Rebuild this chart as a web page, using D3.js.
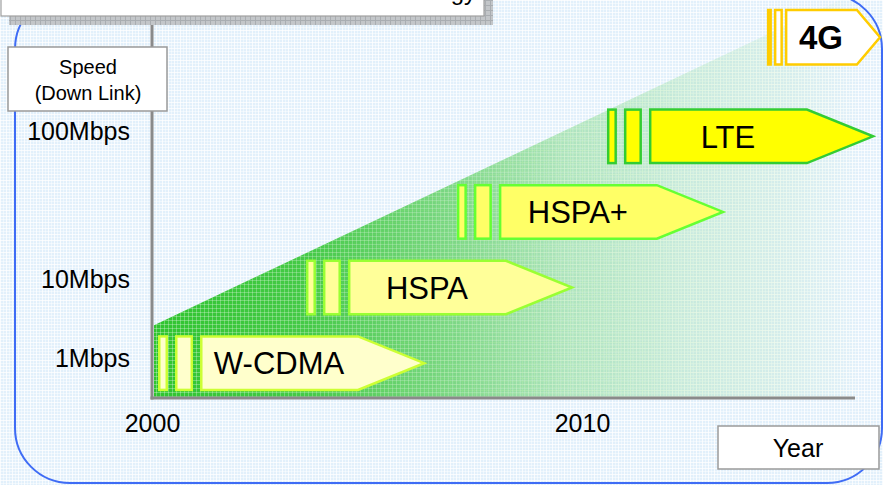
<!DOCTYPE html>
<html>
<head>
<meta charset="utf-8">
<script src="https://cdn.jsdelivr.net/npm/d3@7"></script>
<style>
  html, body { margin: 0; padding: 0; overflow: hidden; background: #ffffff; }
  svg { display: block; font-family: "Liberation Sans", Arial, sans-serif; }
</style>
</head>
<body>
<script>
// ---------- data ----------
const techNames = ["W-CDMA", "HSPA", "HSPA+", "LTE", "4G"];
const techStartYear = [2000.14, 2003.58, 2007.09, 2010.58, 2014.3];
const techSpeedMbps = [0.86, 7.8, 28.4, 92, 430];
const speedTicks = [1, 10, 100];
const yearTicks = [2000, 2010];
const trendYears = [2000, 2016.5];
const trendSpeeds = [2.6, 900];

// ---------- styles ----------
const fills = ["#ffffcc", "#ffff99", "#ffff66", "#ffff00", "#ffffff"];
const strokes = ["#ccff33", "#99ff33", "#66ff33", "#33cc33", "#ffcc00"];
const regularShape = { h: 56, bar1: [0, 10], bar2: [17, 35], body: 42, neck: 200, tip: 268, font: 31, weight: "normal" };
const fourGShape = { h: 57, bar1: [0, 5], bar2: [7, 16], body: 18, neck: 90, tip: 115, font: 33, weight: "bold" };
const shapes = [regularShape, regularShape, regularShape, regularShape, fourGShape];

const W = 883, H = 485;
const x = d3.scaleLinear().domain([2000, 2010]).range([152, 582]);
const y = d3.scaleLog().domain([1, 10, 100]).range([358, 279, 131]);
const axisY = 398, axisRight = 855;

const svg = d3.select("body").append("svg").attr("width", W).attr("height", H);
const defs = svg.append("defs");

// background plaid pattern
const bgPat = defs.append("pattern").attr("id", "bgpat").attr("patternUnits", "userSpaceOnUse")
  .attr("width", 6).attr("height", 6);
bgPat.append("rect").attr("width", 6).attr("height", 6).attr("fill", "#e2f0fb");
bgPat.append("rect").attr("x", 0).attr("y", 0).attr("width", 1).attr("height", 6).attr("fill", "#ffffff").attr("opacity", 0.75);
bgPat.append("rect").attr("x", 3).attr("y", 0).attr("width", 1).attr("height", 6).attr("fill", "#ffffff").attr("opacity", 0.45);
bgPat.append("rect").attr("x", 0).attr("y", 0).attr("width", 6).attr("height", 1).attr("fill", "#ffffff").attr("opacity", 0.75);
bgPat.append("rect").attr("x", 0).attr("y", 3).attr("width", 6).attr("height", 1).attr("fill", "#ffffff").attr("opacity", 0.45);

// white-line texture for gradient
const texPat = defs.append("pattern").attr("id", "texpat").attr("patternUnits", "userSpaceOnUse")
  .attr("width", 4).attr("height", 4);
texPat.append("rect").attr("x", 0).attr("y", 0).attr("width", 1).attr("height", 4).attr("fill", "#ffffff").attr("opacity", 0.3);
texPat.append("rect").attr("x", 0).attr("y", 0).attr("width", 4).attr("height", 1).attr("fill", "#ffffff").attr("opacity", 0.3);

// grey shadow pattern
const shPat = defs.append("pattern").attr("id", "shpat").attr("patternUnits", "userSpaceOnUse")
  .attr("width", 5).attr("height", 5);
shPat.append("rect").attr("width", 5).attr("height", 5).attr("fill", "#c3c6c9");
shPat.append("rect").attr("width", 1).attr("height", 5).attr("fill", "#a9adb1");
shPat.append("rect").attr("width", 5).attr("height", 1).attr("fill", "#a9adb1");

// gradient
const x0 = x(trendYears[0]), x1 = x(trendYears[1]);
const grad = defs.append("linearGradient").attr("id", "greengrad").attr("gradientUnits", "userSpaceOnUse")
  .attr("x1", x0).attr("y1", 0).attr("x2", x1).attr("y2", 0);
[[0, 1.0], [0.22, 0.88], [0.42, 0.58], [0.58, 0.3], [0.75, 0.15], [0.9, 0.07], [1, 0.0]].forEach(([o, a]) => {
  grad.append("stop").attr("offset", o).attr("stop-color", "#2fc42f").attr("stop-opacity", a);
});
const texGrad = defs.append("linearGradient").attr("id", "texgrad").attr("gradientUnits", "userSpaceOnUse")
  .attr("x1", x0).attr("y1", 0).attr("x2", x1).attr("y2", 0);
texGrad.append("stop").attr("offset", 0).attr("stop-color", "#fff").attr("stop-opacity", 1);
texGrad.append("stop").attr("offset", 0.6).attr("stop-color", "#fff").attr("stop-opacity", 0.5);
texGrad.append("stop").attr("offset", 1).attr("stop-color", "#fff").attr("stop-opacity", 0);
const texMask = defs.append("mask").attr("id", "texmask").attr("maskUnits", "userSpaceOnUse")
  .attr("x", 0).attr("y", 0).attr("width", W).attr("height", H);
texMask.append("rect").attr("width", W).attr("height", H).attr("fill", "url(#texgrad)");

// background
svg.append("rect").attr("width", W).attr("height", H).attr("fill", "url(#bgpat)");
svg.append("rect").attr("x", 15).attr("y", -6).attr("width", 867).attr("height", 489)
  .attr("rx", 55).attr("ry", 55).attr("fill", "none").attr("stroke", "#3f6cf5").attr("stroke-width", 2);

// trend triangle
const triPts = [
  [x0 + 2, y(trendSpeeds[0])],
  [x1, y(trendSpeeds[1])],
  [x1, axisY - 1],
  [x0 + 2, axisY - 1]
];
const triPath = d3.line()(triPts) + "Z";
svg.append("path").attr("d", triPath).attr("fill", "url(#greengrad)");
svg.append("path").attr("d", triPath).attr("fill", "url(#texpat)").attr("mask", "url(#texmask)");

// axis lines
svg.append("line").attr("x1", x(2000)).attr("x2", x(2000)).attr("y1", 0).attr("y2", axisY + 1.5)
  .attr("stroke", "#8a8a8a").attr("stroke-width", 3);
svg.append("line").attr("x1", x(2000) - 1.5).attr("x2", axisRight).attr("y1", axisY).attr("y2", axisY)
  .attr("stroke", "#8a8a8a").attr("stroke-width", 3);

// tick labels via axes
const yAxis = d3.axisLeft(y).tickValues(speedTicks).tickSize(0).tickPadding(22)
  .tickFormat(d => d + "Mbps");
const gy = svg.append("g").attr("transform", `translate(${x(2000)},0)`).call(yAxis);
gy.select(".domain").remove();
gy.selectAll("text").attr("font-size", 25).attr("fill", "#000")
  .attr("font-family", "'Liberation Sans', Arial, sans-serif");

const xAxis = d3.axisBottom(x).tickValues(yearTicks).tickSize(0).tickPadding(16).tickFormat(d3.format("d"));
const gx = svg.append("g").attr("transform", `translate(0,${axisY})`).call(xAxis);
gx.select(".domain").remove();
gx.selectAll("text").attr("font-size", 25).attr("fill", "#000")
  .attr("font-family", "'Liberation Sans', Arial, sans-serif");

// technology arrows
techNames.forEach((name, i) => {
  const s = shapes[i];
  const bx = x(techStartYear[i]);
  const yc = y(techSpeedMbps[i]);
  const top = yc - s.h / 2, bot = yc + s.h / 2;
  const g = svg.append("g");
  const sw = 2.5, inset = sw / 2;
  [s.bar1, s.bar2].forEach(b => {
    g.append("rect").attr("x", bx + b[0] + inset).attr("y", top + inset)
      .attr("width", b[1] - b[0] - sw).attr("height", s.h - sw)
      .attr("fill", fills[i]).attr("stroke", strokes[i]).attr("stroke-width", sw);
  });
  const body = [
    [bx + s.body + inset, top + inset],
    [bx + s.neck, top + inset],
    [bx + s.tip - inset * 1.5, yc],
    [bx + s.neck, bot - inset],
    [bx + s.body + inset, bot - inset]
  ];
  g.append("path").attr("d", d3.line()(body) + "Z")
    .attr("fill", fills[i]).attr("stroke", strokes[i]).attr("stroke-width", sw).attr("stroke-linejoin", "miter");
  g.append("text").attr("x", bx + (s.body + s.neck) / 2).attr("y", yc).attr("dy", "0.36em")
    .attr("text-anchor", "middle").attr("font-size", s.font).attr("font-weight", s.weight)
    .attr("fill", "#000").text(name);
});

// top title box (clipped) with shadow
svg.append("rect").attr("x", 9).attr("y", -10).attr("width", 484).attr("height", 35).attr("fill", "url(#shpat)");
svg.append("rect").attr("x", 1).attr("y", -10).attr("width", 483).attr("height", 26)
  .attr("fill", "#ffffff").attr("stroke", "#a0a0a0").attr("stroke-width", 1.2);
svg.append("text").attr("x", 476).attr("y", 0).attr("text-anchor", "end").attr("font-size", 24)
  .attr("fill", "#000").text("Evolution of Mobile Technology");

// Speed box
svg.append("rect").attr("x", 8).attr("y", 47).attr("width", 159).attr("height", 64)
  .attr("fill", "#ffffff").attr("stroke", "#9a9a9a").attr("stroke-width", 1.5);
svg.append("text").attr("x", 88).attr("y", 74).attr("text-anchor", "middle").attr("font-size", 20).text("Speed");
svg.append("text").attr("x", 88).attr("y", 100).attr("text-anchor", "middle").attr("font-size", 20).text("(Down Link)");

// Year box
svg.append("rect").attr("x", 718).attr("y", 426).attr("width", 161).attr("height", 43)
  .attr("fill", "#ffffff").attr("stroke", "#9a9a9a").attr("stroke-width", 1.5);
svg.append("text").attr("x", 798).attr("y", 457).attr("text-anchor", "middle").attr("font-size", 25).text("Year");
</script>
</body>
</html>
